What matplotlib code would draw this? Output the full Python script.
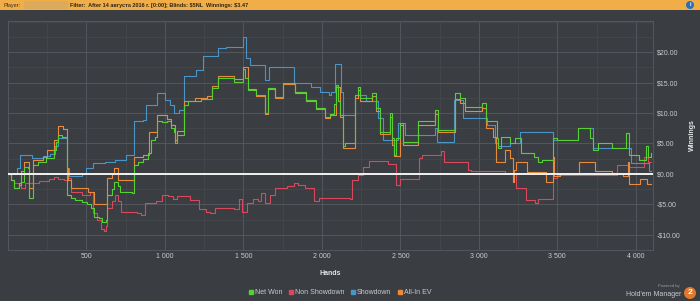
import matplotlib
matplotlib.use("Agg")
from matplotlib import pyplot as plt
from matplotlib.lines import Line2D
from matplotlib.patches import Rectangle, Ellipse
from matplotlib.ticker import MultipleLocator, FuncFormatter

# --- data (hands, winnings in $) ---
won_hands = [0, 20, 40, 70, 85, 105, 130, 133, 155, 160, 190, 240, 270, 290, 305, 320, 345, 375, 378,
             400, 430, 470, 505, 530, 550, 580, 600, 625, 632, 660, 675, 700, 716, 790, 800, 830, 860,
             890, 910, 935, 950, 980, 1010, 1040, 1060, 1066, 1080, 1110, 1119, 1150, 1230, 1270, 1300,
             1340, 1440, 1500, 1510, 1530, 1580, 1630, 1639, 1655, 1700, 1750, 1830, 1900, 1960, 2020,
             2050, 2075, 2090, 2105, 2116, 2133, 2150, 2211, 2232, 2245, 2317, 2345, 2370, 2434, 2445,
             2460, 2475, 2497, 2520, 2615, 2720, 2740, 2847, 2880, 2910, 3020, 3045, 3115, 3123, 3140,
             3200, 3230, 3270, 3350, 3377, 3400, 3473, 3500, 3632, 3710, 3730, 3760, 3850, 3935, 3960,
             4020, 4067, 4080, 4100]
won = [0, -1.0, -2.3, -1.8, -1.3, 1.2, 1.0, -3.9, -3.9, 1.5, 2.0, 2.6, 2.6, 4.0, 5.3, 6.4, 6.1, 6.1, -3.4,
       -4.0, -4.3, -4.6, -5.0, -5.6, -7.0, -7.3, -7.9, -7.5, -3.5, -2.5, -1.3, -2.0, -3.0, -3.1, 1.5, 2.0, 2.5,
       3.5, 5.6, 6.0, 8.6, 8.5, 8.6, 7.5, 6.9, 5.1, 6.4, 6.4, 11.3, 11.9, 12.3, 12.3, 14.1,
       15.7, 15.1, 17.3, 15.8, 13.8, 13.0, 13.0, 10.0, 14.1, 12.7, 14.9, 13.5, 12.1, 10.8, 9.4,
       9.9, 11.5, 14.6, 12.0, 9.7, 4.5, 5.0, 13.0, 14.3, 12.4, 13.3, 10.8, 6.9, 10.0, 5.9,
       3.1, 5.9, 8.4, 5.3, 8.6, 10.5, 7.2, 13.2, 12.4, 11.0, 11.6, 8.6, 5.9, 4.3, 6.1,
       5.0, 5.9, 3.4, 2.8, 2.0, 2.3, 5.9, 5.6, 7.5, 5.9, 3.9, 5.0, 4.3, 6.7, 3.1,
       2.3, 4.5, 2.8, 3.4]

sd_hands = [0, 55, 78, 155, 220, 270, 300, 320, 377, 390, 470, 500, 540, 620, 680, 750, 801, 860, 880,
            950, 1000, 1030, 1060, 1090, 1119, 1200, 1240, 1335, 1390, 1500, 1515, 1545, 1640, 1660,
            1820, 1930, 1990, 2045, 2060, 2085, 2125, 2133, 2211, 2280, 2360, 2390, 2485, 2530, 2720,
            2735, 2840, 2900, 3050, 3105, 3120, 3200, 3260, 3475, 3630, 3730, 3970, 4085, 4100]
showdown = [0, 1.0, 3.1, 2.6, 3.0, 3.2, 4.5, 5.9, 1.0, -0.4, 0.0, 1.0, 1.8, 2.0, 2.3, 3.1, 8.6, 8.9, 11.3,
            13.2, 12.1, 11.3, 10.0, 10.5, 16.0, 17.0, 19.4, 20.6, 20.9, 22.5, 19.0, 17.9, 15.4, 17.6,
            14.9, 14.3, 13.5, 13.0, 13.5, 18.1, 13.5, 9.7, 13.0, 11.9, 9.2, 5.6, 8.4, 6.4, 7.5,
            5.3, 12.1, 9.2, 8.0, 5.0, 4.6, 5.0, 6.9, 5.6, 7.5, 4.3, 1.8, 0.4, 0.4]

nsd_hands = [0, 20, 40, 85, 110, 200, 260, 290, 320, 360, 380, 400, 470, 520, 540, 570, 590, 610, 625,
             632, 660, 680, 700, 720, 820, 850, 870, 940, 980, 1020, 1050, 1080, 1160, 1220, 1260, 1290,
             1320, 1440, 1470, 1490, 1520, 1560, 1590, 1610, 1640, 1670, 1700, 1780, 1820, 1850, 1890,
             1947, 1980, 2180, 2195, 2230, 2265, 2300, 2420, 2470, 2500, 2620, 2640, 2760, 2780, 2930,
             2950, 3170, 3240, 3300, 3360, 3380, 3475, 3500, 3880, 3960, 4050, 4080, 4100]
non_showdown = [0, -1.0, -1.5, -2.3, -1.5, -1.2, -0.8, -0.5, -0.8, -1.0, -0.7, -3.0, -3.5, -3.0, -6.4, -7.5,
                -9.0, -9.3, -8.5, -5.6, -4.5, -3.4, -4.5, -6.2, -6.5, -6.7, -4.8, -4.5, -3.4, -3.6, -4.1,
                -3.6, -4.3, -5.8, -6.3, -6.5, -5.6, -5.8, -4.1, -6.3, -4.8, -4.1, -4.5, -3.1, -4.8, -3.4,
                -2.3, -2.0, -1.5, -1.8, -2.3, -4.5, -4.0, -4.2, -1.0, -0.2, 1.2, 2.1, 1.6, -1.8, -0.8,
                2.6, 3.1, 3.7, 2.0, 0.7, 0.5, 0.2, -2.3, -4.3, -4.8, -4.1, -0.7, -0.2, 1.5, 1.1, 2.8,
                2.0, 2.0]

ev_hands = [0, 20, 40, 70, 85, 105, 133, 160, 220, 250, 290, 320, 350, 378, 385, 400, 510, 545, 625, 632,
            660, 675, 700, 800, 860, 900, 950, 1010, 1040, 1066, 1080, 1119, 1190, 1270, 1300, 1340,
            1440, 1500, 1530, 1580, 1639, 1655, 1700, 1750, 1830, 1900, 1960, 2020, 2050, 2090, 2116,
            2133, 2211, 2232, 2245, 2317, 2345, 2370, 2434, 2445, 2460, 2497, 2520, 2615, 2720, 2740,
            2847, 2880, 2910, 3020, 3045, 3090, 3110, 3165, 3200, 3215, 3225, 3240, 3310, 3430, 3473,
            3480, 3520, 3640, 3740, 3850, 3920, 3950, 3960, 4030, 4070, 4100]
allin_ev = [0, -1.0, -2.3, -1.5, 0.5, 2.0, -2.3, 2.3, 2.8, 3.9, 5.6, 7.8, 7.3, 1.0, -1.0, -2.3, -3.0, -5.0,
            -5.0, -0.7, 0.0, 1.0, -1.0, 2.8, 3.1, 6.9, 9.7, 9.0, 8.0, 5.5, 7.0, 12.0, 12.5, 12.8, 14.5,
            16.1, 15.6, 17.5, 14.0, 12.8, 9.8, 13.9, 12.5, 14.7, 13.3, 11.9, 10.6, 9.2, 9.6, 14.2, 9.4,
            4.3, 12.5, 13.8, 12.0, 12.8, 10.3, 6.5, 9.4, 4.8, 3.0, 8.0, 4.8, 8.0, 9.8, 6.8,
            12.3, 11.6, 10.3, 10.8, 7.5, 6.0, 2.0, 3.9, 2.6, -1.3, 0.7, 2.0, 0.3, -1.3, 2.8,
            -0.4, 0.0, 2.0, 0.5, 0.0, -0.4, 2.0, -1.7, -0.9, -1.7, -1.7]

x_ticks = [500, 1000, 1500, 2000, 2500, 3000, 3500, 4000]
y_ticks = [-10, -5, 0, 5, 10, 15, 20]

bg = '#3a3d42'
c_won = '#58d034'
c_nsd = '#d9485b'
c_sd = '#4b94c8'
c_ev = '#e98a3c'
txt = '#c9cbce'
fonts = ['Liberation Sans', 'DejaVu Sans']

fig = plt.figure(figsize=(7.0, 3.01), dpi=100, facecolor=bg)

# header bar
fig.patches.append(Rectangle((0, 1 - 10 / 301), 1, 10 / 301, transform=fig.transFigure,
                             facecolor='#f1ae48', edgecolor='none'))
fig.patches.append(Rectangle((24 / 700, 1 - 9 / 301), 44 / 700, 8 / 301, transform=fig.transFigure,
                             facecolor='#d9a861', edgecolor='none', alpha=0.8))
fig.text(3 / 700, 1 - 5 / 301, 'Player:', fontsize=4, color='#3a3020', va='center', family=fonts)
fig.text(70 / 700, 1 - 5 / 301, r'Filter:  After 14 августа 2016 г. [0:00]; Blinds: \$5NL  Winnings: \$3.47',
         fontsize=4, color='#2e2618', va='center', fontweight='bold', family=fonts)
fig.patches.append(Ellipse((690 / 700, 1 - 5 / 301), 8 / 700, 8 / 301, transform=fig.transFigure,
                           facecolor='#2c6fb8', edgecolor='none'))
fig.text(690 / 700, 1 - 5 / 301, 'i', fontsize=4, color='white', ha='center', va='center',
         fontweight='bold', family=fonts)

ax = fig.add_axes([8 / 700, 1 - 250 / 301, 645 / 700, 229 / 301])
ax.set_facecolor(bg)

ax.plot(nsd_hands, non_showdown, drawstyle='steps-post', color=c_nsd, lw=0.8)
ax.plot(sd_hands, showdown, drawstyle='steps-post', color=c_sd, lw=0.8)
ax.plot(ev_hands, allin_ev, drawstyle='steps-post', color=c_ev, lw=0.8)
ax.plot(won_hands, won, drawstyle='steps-post', color=c_won, lw=0.8)
ax.axhline(0, color='#f2f2f2', lw=1.4, zorder=5)

ax.set_xlim(0, 4110)
ax.set_ylim(-12.5, 25.1)
ax.set_xticks(x_ticks)
ax.set_yticks(y_ticks)
ax.xaxis.set_minor_locator(MultipleLocator(250))
ax.yaxis.set_minor_locator(MultipleLocator(2.5))
ax.xaxis.set_major_formatter(FuncFormatter(lambda v, p: f'{int(v):,}'.replace(',', ' ')))
ax.yaxis.set_major_formatter(FuncFormatter(lambda v, p: ('-' if v < 0 else '') + f'\\${abs(v):.2f}'))
ax.grid(which='major', color='#575a60', lw=0.6)
ax.grid(which='minor', color='#46494e', lw=0.5)
ax.set_axisbelow(True)
ax.yaxis.tick_right()
ax.yaxis.set_label_position('right')
ax.tick_params(which='both', length=0, labelsize=5, labelcolor=txt, pad=2.5)
for lab in ax.get_xticklabels() + ax.get_yticklabels():
    lab.set_family(fonts)
for s in ax.spines.values():
    s.set_color('#575a60')
    s.set_linewidth(0.6)

ax.set_xlabel('Hands', fontsize=5, color='#e6e6e6', fontweight='bold', family=fonts, labelpad=7)
ax.set_ylabel('Winnings', fontsize=5, color='#e6e6e6', fontweight='bold', family=fonts, labelpad=6)

handles = [Line2D([], [], ls='none', marker='s', markersize=3, color=c) for c in [c_won, c_nsd, c_sd, c_ev]]
fig.legend(handles, ['Net Won', 'Non Showdown', 'Showdown', 'All-In EV'], loc='center',
           bbox_to_anchor=(340 / 700, 1 - 293 / 301), ncol=4, frameon=False,
           labelcolor=txt, handlelength=0.6, handletextpad=0.3, columnspacing=0.9,
           prop={'family': fonts, 'size': 5})

# footer logo
fig.text(680 / 700, 1 - 286 / 301, 'Powered by', fontsize=3, color='#9a9ca0', ha='right', va='center',
         family=fonts)
fig.text(681 / 700, 1 - 294 / 301, "Hold'em Manager", fontsize=5, color='#c9cbce', ha='right',
         va='center', family=fonts)
fig.patches.append(Ellipse((690 / 700, 1 - 293 / 301), 12 / 700, 12 / 301, transform=fig.transFigure,
                           facecolor='#e0782e', edgecolor='none'))
fig.text(690 / 700, 1 - 293 / 301, '2', fontsize=6, color='white', ha='center', va='center',
         fontweight='bold', family=fonts)

fig.savefig('out.png', dpi=100, facecolor=bg)
